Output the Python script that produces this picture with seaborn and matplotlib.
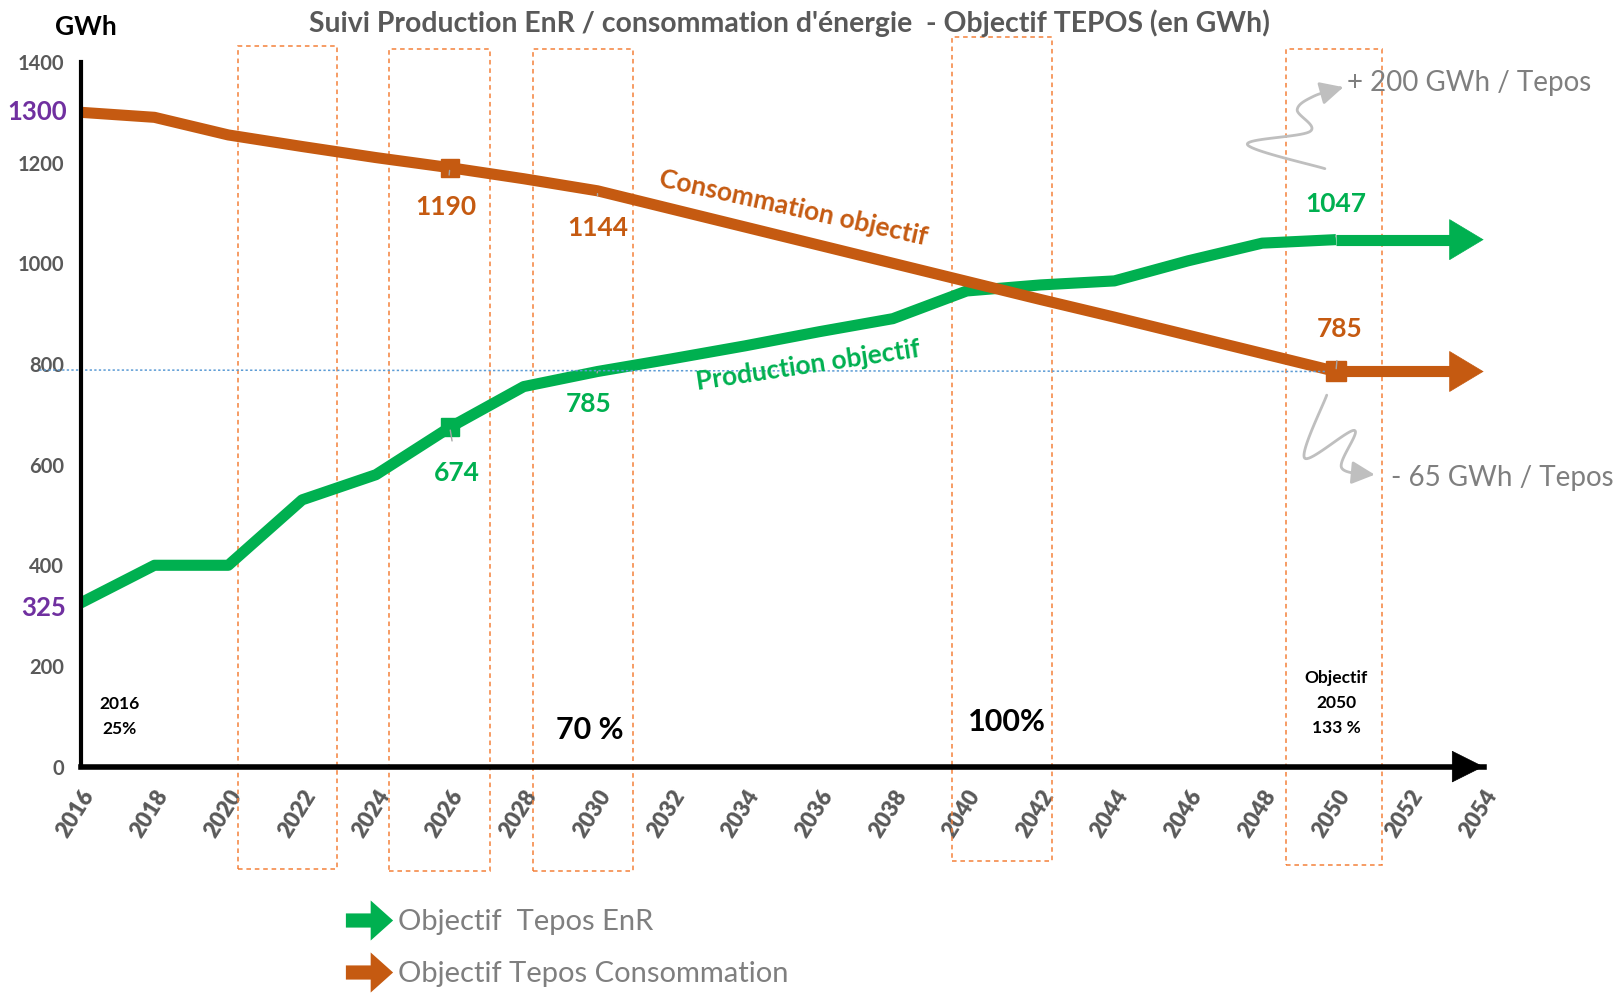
import numpy as np
import pandas as pd
import matplotlib
matplotlib.use("Agg")
import matplotlib.pyplot as plt
import seaborn as sns
from matplotlib.patches import Rectangle
from matplotlib.path import Path
from matplotlib.lines import Line2D
import matplotlib.transforms as mtransforms

# ---------------- data ----------------
years = [2016, 2018, 2020, 2022, 2024, 2026, 2028, 2030, 2032, 2034, 2036, 2038,
         2040, 2042, 2044, 2046, 2048, 2050]
production = [325, 400, 400, 530, 580, 674, 755, 785, 810, 836, 864, 890,
              945, 957, 965, 1005, 1040, 1047]
consommation = [1300, 1290, 1255, 1232, 1210, 1190, 1168, 1144, 1108, 1072, 1036, 1000,
                964, 928, 893, 857, 821, 785]
target_line = 785
highlight_ranges = [(2020.25, 2022.95), (2024.35, 2027.1), (2028.25, 2030.95),
                    (2039.6, 2042.3), (2048.65, 2051.25)]
x_ticks = list(range(2016, 2056, 2))
y_ticks = list(range(0, 1600, 200))

C_GREEN = "#00B050"
C_ORANGE = "#C55A11"
C_GREY = "#595959"
C_LGREY = "#7F7F7F"
C_PURPLE = "#7030A0"
C_RECT = "#F4813A"

sns.set_theme(style="white")
plt.rcParams["font.family"] = ["Lato", "DejaVu Sans"]

fig = plt.figure(figsize=(16.22, 9.93), dpi=100)
ax = fig.add_axes([0.0497, 0.228, 0.865, 0.7096])

df = pd.DataFrame({"Année": years * 2,
                   "GWh": production + consommation,
                   "Série": ["Production"] * len(years) + ["Consommation"] * len(years)})
sns.lineplot(data=df, x="Année", y="GWh", hue="Série",
             palette={"Production": C_GREEN, "Consommation": C_ORANGE},
             linewidth=8, legend=False, ax=ax, solid_joinstyle="round",
             solid_capstyle="butt")

ax.set_xlim(2016, 2054)
ax.set_ylim(0, 1400)
ax.set_xlabel("")
ax.set_ylabel("")

# arrow extensions to the axis end
for series, col in [(production, C_GREEN), (consommation, C_ORANGE)]:
    ax.plot([years[-1], 2053.2], [series[-1], series[-1]], color=col, lw=8,
            solid_capstyle="butt", zorder=3)
    ax.annotate("", xy=(2054, series[-1]), xytext=(2053.0, series[-1]),
                arrowprops=dict(arrowstyle="-|>,head_length=1.2,head_width=0.72",
                                color=col, lw=0.5, mutation_scale=20,
                                shrinkA=0, shrinkB=0), zorder=3)

# markers
idx26 = years.index(2026)
ax.plot([2026], [production[idx26]], marker="s", ms=13, color=C_GREEN, zorder=4)
ax.plot([2026], [consommation[idx26]], marker="s", ms=13, color=C_ORANGE, zorder=4)
ax.plot([2050], [consommation[-1]], marker="s", ms=14, color=C_ORANGE, zorder=4)

# spines
for s in ["top", "right"]:
    ax.spines[s].set_visible(False)
ax.spines["left"].set_linewidth(3)
ax.spines["bottom"].set_linewidth(4)
ax.spines["left"].set_color("black")
ax.spines["bottom"].set_color("black")
ax.annotate("", xy=(1.0, 0), xytext=(0.975, 0), xycoords="axes fraction",
            arrowprops=dict(arrowstyle="-|>,head_length=1.1,head_width=0.55",
                            color="black", lw=0.5, mutation_scale=20,
                            shrinkA=0, shrinkB=0), annotation_clip=False)

ax.set_xticks(x_ticks)
ax.set_xticklabels([str(t) for t in x_ticks], rotation=58, ha="right",
                   va="top", rotation_mode="anchor", fontsize=16,
                   fontweight="heavy", color=C_GREY)
ax.set_yticks(y_ticks)
ax.set_yticklabels([str(t) for t in y_ticks], fontsize=14.5,
                   fontweight="bold", color=C_GREY)
ax.tick_params(axis="x", direction="out", length=6, width=3, color="black", pad=8)
ax.tick_params(axis="y", direction="out", length=6, width=3, color="black", pad=6)
ax.grid(False)

# purple start values on y axis
trans_y = mtransforms.blended_transform_factory(fig.transFigure, ax.transData)
ax.text(0.041, consommation[0], str(consommation[0]), transform=trans_y, ha="right",
        va="center", color=C_PURPLE, fontsize=18.5, fontweight="bold")
ax.text(0.041, production[0] - 10, str(production[0]), transform=trans_y, ha="right",
        va="center", color=C_PURPLE, fontsize=18.5, fontweight="bold")

# dotted blue reference line
ax.plot([2014.88, 2050], [target_line + 3, target_line], color="#5B9BD5", lw=1.1,
        ls=(0, (1.5, 1.5)), clip_on=False, zorder=2)

# dashed rectangles
rect_bounds = [(-204, 1431), (-208, 1425), (-208, 1425), (-187, 1449), (-195, 1425)]
for (x0, x1), (yb, yt) in zip(highlight_ranges, rect_bounds):
    ax.add_patch(Rectangle((x0, yb), x1 - x0, yt - yb, fill=False, edgecolor=C_RECT,
                           lw=1.1, ls=(0, (3, 2.5)), clip_on=False, zorder=1))

# value labels with leader lines
def val_label(x, y, tx, ty, text, col):
    ax.annotate(text, xy=(x, y), xytext=(tx, ty), ha="center", va="center",
                color=col, fontsize=19, fontweight="bold",
                arrowprops=dict(arrowstyle="-", color="#A6A6A6", lw=1,
                                shrinkA=12, shrinkB=2), zorder=5)

p = dict(zip(years, production))
c = dict(zip(years, consommation))
val_label(2026, c[2026], 2025.9, 1112, str(c[2026]), C_ORANGE)
val_label(2030, c[2030], 2030.0, 1071, str(c[2030]), C_ORANGE)
val_label(2026, p[2026], 2026.2, 584, str(p[2026]), C_GREEN)
val_label(2030, p[2030], 2029.75, 720, str(p[2030]), C_GREEN)
val_label(2050, p[2050], 2050.0, 1118, str(p[2050]), C_GREEN)
val_label(2050, c[2050], 2050.1, 870, str(c[2050]), C_ORANGE)

ax.text(2035.3, 1110, "Consommation objectif", rotation=-12.5, ha="center",
        va="center", color=C_ORANGE, fontsize=19, fontweight="bold",
        rotation_mode="anchor")
ax.text(2035.7, 797, "Production objectif", rotation=8.5, ha="center",
        va="center", color=C_GREEN, fontsize=19, fontweight="bold",
        rotation_mode="anchor")

# milestone texts
ax.text(2017.05, 99, "2016\n25%", ha="center", va="center", fontsize=12.5,
        fontweight="bold", color="black", linespacing=1.7)
ax.text(2029.8, 72, "70 %", ha="center", va="center", fontsize=22,
        fontweight="bold", color="black")
ax.text(2041.1, 88, "100%", ha="center", va="center", fontsize=22,
        fontweight="bold", color="black")
ax.text(2050.0, 127, "Objectif\n2050\n133 %", ha="center", va="center",
        fontsize=12.5, fontweight="bold", color="black", linespacing=1.7)

ax.text(2050.3, 1359, "+ 200 GWh / Tepos", ha="left", va="center", fontsize=20,
        color=C_LGREY)
ax.text(2051.5, 574, "- 65 GWh / Tepos", ha="left", va="center", fontsize=20,
        color=C_LGREY)

# squiggly grey arrows (Catmull-Rom through guide points)
def catmull(pts, n=20):
    pts = np.asarray(pts, float)
    pts = np.vstack([pts[0], pts, pts[-1]])
    out = []
    for i in range(1, len(pts) - 2):
        p0, p1, p2, p3 = pts[i - 1], pts[i], pts[i + 1], pts[i + 2]
        for t in np.linspace(0, 1, n, endpoint=False):
            out.append(0.5 * ((2 * p1) + (-p0 + p2) * t +
                              (2 * p0 - 5 * p1 + 4 * p2 - p3) * t ** 2 +
                              (-p0 + 3 * p1 - 3 * p2 + p3) * t ** 3))
    out.append(pts[-2])
    return np.array(out)

squiggle_up = [(2049.7, 1188), (2047.6, 1236), (2049.3, 1262), (2048.95, 1305),
               (2049.4, 1332), (2050.2, 1350)]
squiggle_down = [(2049.75, 738), (2049.15, 613), (2050.5, 668), (2050.15, 594),
                 (2051.05, 580)]
for pts in (squiggle_up, squiggle_down):
    cr = catmull(pts)
    ax.plot(cr[:-3, 0], cr[:-3, 1], color="#BFBFBF", lw=2, clip_on=False, zorder=2,
            solid_capstyle="round")
    ax.annotate("", xy=tuple(cr[-1]), xytext=tuple(cr[-5]),
                arrowprops=dict(arrowstyle="-|>,head_length=0.7,head_width=0.35",
                                color="#BFBFBF", lw=2, mutation_scale=20,
                                shrinkA=0, shrinkB=0), annotation_clip=False)

# titles
fig.text(0.487, 0.977, "Suivi Production EnR / consommation d'énergie  - Objectif TEPOS (en GWh)",
         ha="center", va="center", fontsize=20.4, fontweight="bold", color=C_GREY)
fig.text(0.053, 0.973, "GWh", ha="center", va="center", fontsize=19,
         fontweight="bold", color="black")

# legend with arrow markers
arrow_marker = Path([(-1, -0.3), (0.05, -0.3), (0.05, -0.85), (1, 0), (0.05, 0.85),
                     (0.05, 0.3), (-1, 0.3), (-1, -0.3)],
                    [Path.MOVETO] + [Path.LINETO] * 6 + [Path.CLOSEPOLY])
handles = [Line2D([], [], ls="None", marker=arrow_marker, ms=34, color=C_GREEN,
                  markeredgewidth=0),
           Line2D([], [], ls="None", marker=arrow_marker, ms=34, color=C_ORANGE,
                  markeredgewidth=0)]
leg = fig.legend(handles, ["Objectif  Tepos EnR", "Objectif Tepos Consommation"],
                 loc="center left", bbox_to_anchor=(0.197, 0.045), frameon=False,
                 fontsize=21, labelspacing=0.88, handlelength=1.6, handletextpad=0.2,
                 labelcolor=C_LGREY)

fig.savefig("out.png", dpi=100)
